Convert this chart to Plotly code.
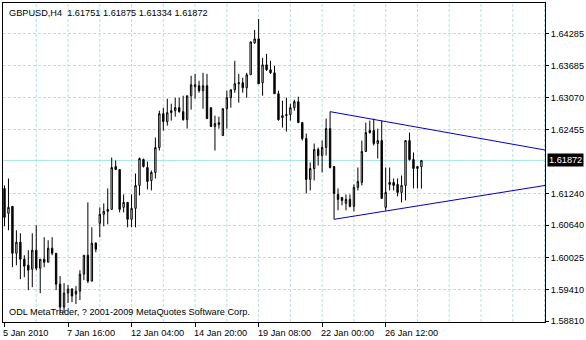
import plotly.graph_objects as go

symbol = "GBPUSD"
timeframe = "H4"

# OHLC per H4 bar (bar index 0 = 5 Jan 2010 00:00)
opens = [1.61338, 1.60863, 1.60996, 1.60102, 1.60312, 1.59988, 1.59874, 1.59798, 1.60160, 1.59817,
         1.59988, 1.59931, 1.60198, 1.60102, 1.59513, 1.59076, 1.59342, 1.59418, 1.59323, 1.59380,
         1.59703, 1.60064, 1.59570, 1.60293, 1.60673, 1.60844, 1.60901, 1.60939, 1.61756, 1.61699,
         1.60977, 1.61072, 1.60749, 1.60958, 1.61395, 1.61889, 1.61737, 1.61490, 1.61642, 1.62118,
         1.62764, 1.62612, 1.62783, 1.62821, 1.62878, 1.62802, 1.62650, 1.63106, 1.63277, 1.63296,
         1.63201, 1.63296, 1.62878, 1.62517, 1.62555, 1.62346, 1.62859, 1.63068, 1.63220, 1.63334,
         1.63353, 1.63258, 1.63505, 1.64114, 1.64190, 1.63353, 1.63695, 1.63600, 1.63543, 1.63144,
         1.62688, 1.62726, 1.62745, 1.62878, 1.62992, 1.62593, 1.62289, 1.61509, 1.61718, 1.62080,
         1.61965, 1.62118, 1.62479, 1.61756, 1.61224, 1.61167, 1.61053, 1.61129, 1.60996, 1.61357,
         1.61452, 1.62042, 1.62441, 1.62441, 1.62194, 1.62251, 1.60977, 1.61452, 1.61452, 1.61414,
         1.61262, 1.61395, 1.62251, 1.61889, 1.61718, 1.61751]
highs = [1.61395, 1.61528, 1.60996, 1.60540, 1.60483, 1.60064, 1.60160, 1.60483, 1.60635, 1.59988,
         1.60407, 1.60350, 1.60407, 1.60102, 1.59665, 1.59532, 1.59494, 1.59437, 1.59475, 1.59779,
         1.60064, 1.61072, 1.60597, 1.60312, 1.60977, 1.61053, 1.61338, 1.61927, 1.61870, 1.61699,
         1.61224, 1.61072, 1.61224, 1.61623, 1.61927, 1.61908, 1.61851, 1.61680, 1.62308, 1.62821,
         1.62878, 1.63049, 1.62954, 1.63068, 1.63068, 1.63106, 1.63106, 1.63486, 1.63524, 1.63391,
         1.63543, 1.63524, 1.62878, 1.62726, 1.62707, 1.62859, 1.63201, 1.63220, 1.63771, 1.63524,
         1.63448, 1.63543, 1.64133, 1.64361, 1.64570, 1.63828, 1.63904, 1.63771, 1.63676, 1.63201,
         1.63011, 1.63068, 1.62954, 1.63030, 1.63087, 1.62593, 1.62384, 1.61832, 1.62194, 1.62118,
         1.62251, 1.62669, 1.62802, 1.61756, 1.61338, 1.61167, 1.61224, 1.61224, 1.61414, 1.61737,
         1.62251, 1.62593, 1.62631, 1.62669, 1.62479, 1.62631, 1.61737, 1.61737, 1.61528, 1.61528,
         1.61585, 1.62251, 1.62403, 1.62023, 1.61756, 1.61875]
lows = [1.60616, 1.60540, 1.59836, 1.59874, 1.59608, 1.59646, 1.59399, 1.59456, 1.59779, 1.59342,
        1.59836, 1.59931, 1.60064, 1.59399, 1.58962, 1.58962, 1.59152, 1.59171, 1.59133, 1.59209,
        1.59589, 1.59532, 1.59570, 1.60121, 1.60407, 1.60616, 1.60654, 1.60939, 1.61699, 1.60882,
        1.60882, 1.60597, 1.60597, 1.60597, 1.61205, 1.61737, 1.61319, 1.61300, 1.61528, 1.62061,
        1.62441, 1.62536, 1.62631, 1.62707, 1.62783, 1.62631, 1.62479, 1.62840, 1.63049, 1.63163,
        1.62859, 1.62669, 1.62517, 1.62061, 1.62479, 1.62346, 1.62479, 1.62878, 1.63163, 1.62973,
        1.63163, 1.63068, 1.63505, 1.64095, 1.63334, 1.63106, 1.63581, 1.63524, 1.63144, 1.62631,
        1.62498, 1.62422, 1.62631, 1.62821, 1.62593, 1.62251, 1.61243, 1.61300, 1.61490, 1.61775,
        1.61642, 1.61965, 1.61718, 1.60749, 1.60920, 1.61015, 1.60920, 1.60977, 1.60901, 1.61300,
        1.61395, 1.62042, 1.62384, 1.62156, 1.61908, 1.61148, 1.60920, 1.61300, 1.61300, 1.61186,
        1.61072, 1.61110, 1.61870, 1.61338, 1.61338, 1.61334]
closes = [1.60787, 1.60977, 1.60102, 1.60312, 1.59988, 1.59855, 1.59779, 1.60160, 1.59817, 1.59988,
          1.59931, 1.60198, 1.60102, 1.59513, 1.59076, 1.59342, 1.59418, 1.59285, 1.59380, 1.59703,
          1.60064, 1.59570, 1.60293, 1.60179, 1.60844, 1.60901, 1.60939, 1.61737, 1.61699, 1.60939,
          1.61072, 1.60749, 1.60958, 1.61395, 1.61908, 1.61756, 1.61471, 1.61642, 1.62118, 1.62764,
          1.62612, 1.62783, 1.62821, 1.62878, 1.62802, 1.62650, 1.63106, 1.63315, 1.63315, 1.63201,
          1.63296, 1.62669, 1.62517, 1.62574, 1.62593, 1.62859, 1.63068, 1.63220, 1.63334, 1.63353,
          1.63258, 1.63505, 1.64133, 1.64190, 1.63334, 1.63695, 1.63600, 1.63543, 1.63144, 1.62650,
          1.62726, 1.62745, 1.62878, 1.62992, 1.62593, 1.62289, 1.61509, 1.61718, 1.62080, 1.61965,
          1.62118, 1.62479, 1.61737, 1.61243, 1.61129, 1.61110, 1.61129, 1.60996, 1.61357, 1.61471,
          1.62042, 1.62403, 1.62403, 1.62194, 1.62251, 1.61148, 1.61262, 1.61414, 1.61395, 1.61262,
          1.61395, 1.62251, 1.61889, 1.61718, 1.61756, 1.61872]

# time axis labels (bar index -> label)
date_tick_bars = [0, 16, 32, 48, 64, 80, 96]
date_tick_labels = ["5 Jan 2010", "7 Jan 16:00", "12 Jan 04:00", "14 Jan 20:00",
                    "19 Jan 08:00", "22 Jan 00:00", "26 Jan 12:00"]
grid_bars = [8 * k for k in range(1, 18)]

# price scale labels
price_ticks = [1.64285, 1.63685, 1.63070, 1.62455, 1.61240, 1.60640, 1.60025, 1.59410, 1.58810]
price_range = [1.58791, 1.64874]

# triangle trend lines (bar index, price)
upper_line_x = [82, 136.125]
upper_line_y = [1.62802, 1.62071]
lower_line_x = [83, 136.125]
lower_line_y = [1.60749, 1.61395]

copyright_text = "ODL MetaTrader, ? 2001-2009 MetaQuotes Software Corp."

FONT = "Liberation Sans, Arial, sans-serif"
GRID = "#b5e3e3"
BID = "#a4e6ee"

bars = list(range(len(opens)))

fig = go.Figure()
fig.add_trace(go.Candlestick(
    x=bars, open=opens, high=highs, low=lows, close=closes,
    increasing=dict(line=dict(color="black", width=1), fillcolor="white"),
    decreasing=dict(line=dict(color="black", width=1), fillcolor="black"),
    whiskerwidth=0, showlegend=False, hoverinfo="skip",
))
fig.add_trace(go.Scatter(x=upper_line_x, y=upper_line_y, mode="lines",
                         line=dict(color="#0000c8", width=1), showlegend=False, hoverinfo="skip"))
fig.add_trace(go.Scatter(x=lower_line_x, y=lower_line_y, mode="lines",
                         line=dict(color="#0000c8", width=1), showlegend=False, hoverinfo="skip"))

for gb in grid_bars:
    fig.add_shape(type="line", xref="x", yref="paper", x0=gb, x1=gb, y0=0, y1=1,
                  line=dict(color=GRID, width=1, dash="3px,2px"), layer="below")

last_close = closes[-1]
fig.add_shape(type="line", xref="paper", yref="y", x0=0, x1=1, y0=last_close, y1=last_close,
              line=dict(color=BID, width=1), layer="below")

for b, lab in zip(date_tick_bars, date_tick_labels):
    fig.add_annotation(x=b, y=0, xref="x", yref="paper", text=lab, showarrow=False,
                       xanchor="left", yanchor="top", xshift=-3, yshift=-4,
                       font=dict(family=FONT, size=9.2, color="black"))

fig.add_annotation(x=1, y=last_close, xref="paper", yref="y", text=f"{last_close:.5f}",
                   showarrow=False, xanchor="left", yanchor="middle", xshift=2,
                   bgcolor="black", borderpad=1,
                   font=dict(family=FONT, size=9.2, color="white"))

title = f"{symbol},{timeframe}  {opens[-1]:.5f} {highs[-1]:.5f} {lows[-1]:.5f} {closes[-1]:.5f}"
fig.add_annotation(x=0, y=1, xref="paper", yref="paper", text=title, showarrow=False,
                   xanchor="left", yanchor="top", xshift=4, yshift=-3,
                   font=dict(family=FONT, size=9.2, color="black"))
fig.add_annotation(x=0, y=0, xref="paper", yref="paper", text=copyright_text, showarrow=False,
                   xanchor="left", yanchor="bottom", xshift=4, yshift=3,
                   font=dict(family=FONT, size=9.2, color="black"))

fig.update_layout(
    width=586, height=340,
    margin=dict(l=2, r=38, t=2, b=18, pad=0),
    paper_bgcolor="white", plot_bgcolor="white",
    boxgap=0.5,
    xaxis=dict(range=[-0.375, 136.125], rangeslider=dict(visible=False),
               tickmode="array", tickvals=date_tick_bars, showticklabels=False,
               ticks="outside", ticklen=4, tickcolor="black", tickwidth=1,
               showgrid=False, zeroline=False,
               showline=True, linecolor="black", linewidth=1, mirror=True),
    yaxis=dict(range=price_range, side="right",
               tickmode="array", tickvals=price_ticks,
               ticktext=[f"{v:.5f}" for v in price_ticks],
               ticks="outside", ticklen=3, tickcolor="black", tickwidth=1,
               tickfont=dict(family=FONT, size=9.2, color="black"),
               showgrid=True, gridcolor=GRID, gridwidth=1, griddash="3px,2px",
               zeroline=False,
               showline=True, linecolor="black", linewidth=1, mirror=True),
)

fig.write_html("out.html")
